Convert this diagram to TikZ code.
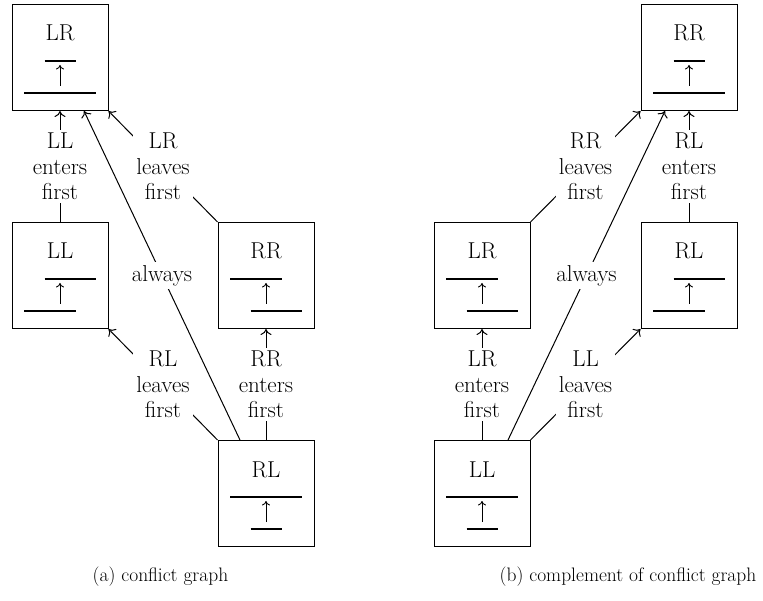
\documentclass[tikz,border=0pt]{standalone}
\usepackage{fontspec}
\usetikzlibrary{calc,arrows.meta}

% A lane box: name, centre x, top y, label, upper bar span, lower bar span
\newcommand\lanebox[8]{%
  \node[lanebox, anchor=north] (#1) at (#2,#3) {};
  \node[anchor=base] (#1-t) at ($(#1.north)+(0,37)$) {#4};
  \draw[bar] ($(#1.north)+(#5,57)$) -- ($(#1.north)+(#6,57)$);
  \draw[bar] ($(#1.north)+(#7,89)$) -- ($(#1.north)+(#8,89)$);
  \draw[bar,line width=0.9pt,-{To[length=4.5pt,width=8pt]}] ($(#1.north)+(0,82)$) -- ($(#1.north)+(0,61)$);
}

\begin{document}
\begin{tikzpicture}[x=1pt, y=-1pt,
  every node/.style={font=\fontsize{23}{25.5}\selectfont},
  lanebox/.style={draw, line width=1pt, minimum width=96pt, minimum height=106pt, inner sep=0pt},
  bar/.style={line width=1.1pt},
  conn/.style={line width=1pt, -{To[length=6pt,width=11pt]}},
  edgelabel/.style={fill=white, align=center, inner sep=3pt},
  caption/.style={font=\fontsize{19.5}{23}\selectfont}]
\useasboundingbox (0,0) rectangle (763,601);

% (a) conflict graph
\lanebox{alr}{60}{4}{LR}{-15.5}{15.5}{-36}{36}
\lanebox{all}{60}{222}{LL}{-15.5}{36}{-36}{15.5}
\lanebox{arr}{266}{222}{RR}{-36}{15.5}{-15.5}{36}
\lanebox{arl}{266}{440}{RL}{-36}{36}{-15.5}{15.5}

\draw[conn] (all.north) -- node[edgelabel]{LL\\enters\\first} (alr.south);
\draw[conn] (arr.north west) -- node[edgelabel]{LR\\leaves\\first} (alr.south east);
\draw[conn] ($(arl.north)+(-26,0)$) -- node[edgelabel]{always} ($(alr.south)+(24,0)$);
\draw[conn] (arl.north west) -- node[edgelabel]{RL\\leaves\\first} (all.south east);
\draw[conn] (arl.north) -- node[edgelabel]{RR\\enters\\first} (arr.south);

% (b) complement of the conflict graph
\lanebox{brr}{689}{4}{RR}{-15.5}{15.5}{-36}{36}
\lanebox{blr}{482}{222}{LR}{-36}{15.5}{-15.5}{36}
\lanebox{brl}{689}{222}{RL}{-15.5}{36}{-36}{15.5}
\lanebox{bll}{482}{440}{LL}{-36}{36}{-15.5}{15.5}

\draw[conn] (blr.north east) -- node[edgelabel]{RR\\leaves\\first} (brr.south west);
\draw[conn] ($(bll.north)+(26,0)$) -- node[edgelabel]{always} ($(brr.south)+(-24,0)$);
\draw[conn] (brl.north) -- node[edgelabel]{RL\\enters\\first} (brr.south);
\draw[conn] (bll.north) -- node[edgelabel]{LR\\enters\\first} (blr.south);
\draw[conn] (bll.north east) -- node[edgelabel]{LL\\leaves\\first} (brl.south west);

% captions
\node[caption] (capa) at (160.5,577) {(a) conflict graph};
\node[caption] (capb) at (628,577) {(b) complement of conflict graph};
\end{tikzpicture}
\end{document}
